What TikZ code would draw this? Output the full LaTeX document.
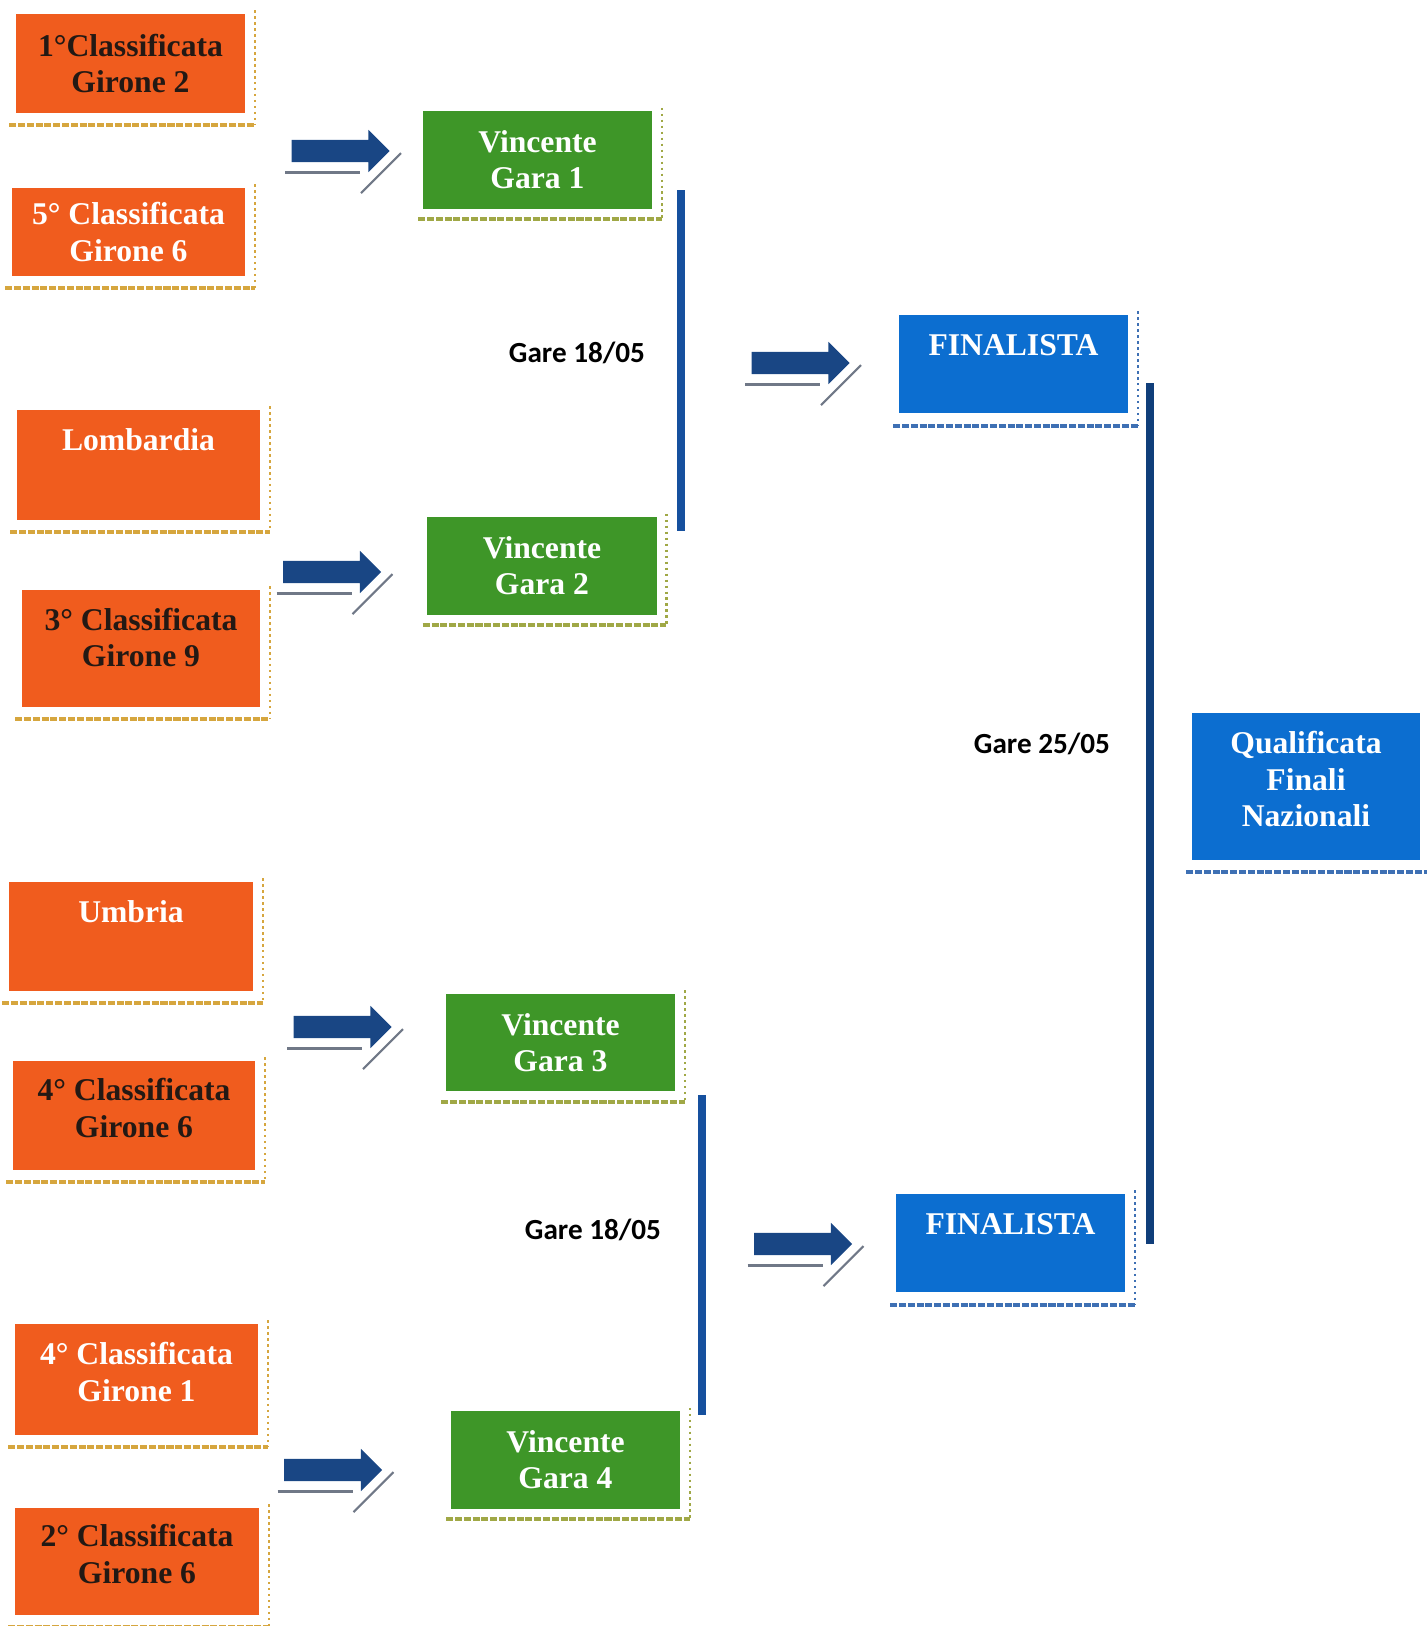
\documentclass[tikz,border=0pt]{standalone}
\usepackage{fontspec}
\setmainfont{Liberation Serif}
\newfontfamily\garefont{Carlito}
\usetikzlibrary{calc,shapes.arrows}

\definecolor{arancio}{RGB}{240,92,30}
\definecolor{verde}{RGB}{62,150,40}
\definecolor{azzurro}{RGB}{12,110,208}
\definecolor{scuro}{RGB}{35,25,20}
\definecolor{freccia}{RGB}{25,70,132}
\definecolor{barra}{RGB}{22,80,158}
\definecolor{barrascura}{RGB}{16,62,122}
\definecolor{oro}{RGB}{214,166,62}
\definecolor{oliva}{RGB}{160,168,70}
\definecolor{celeste}{RGB}{62,112,180}
\definecolor{ombra}{RGB}{112,120,135}

\tikzset{
  box/.style={align=center, inner sep=0pt, text=white,
    font=\bfseries\fontsize{9}{10.3}\selectfont},
  sq/.style={box, fill=arancio},
  gara/.style={box, fill=verde, minimum width=2.29cm, minimum height=0.97cm},
  fin/.style={box, fill=azzurro, minimum width=2.29cm, minimum height=0.98cm},
  gare/.style={font=\garefont\bfseries\fontsize{8.3}{10}\selectfont, text=black},
  barrow/.style={single arrow, fill=freccia, draw=none,
    inner xsep=0pt, inner ysep=0.105cm,
    minimum height=0.98cm, minimum width=0.40cm,
    single arrow head extend=0.1cm, single arrow tip angle=90},
  ashadow/.style={draw=ombra, line width=0.85pt},
  framev/.style={densely dotted, line width=0.7pt},
  frameh/.style={dash pattern=on 2pt off 0.5pt, line width=1.2pt},
  bracket/.style={draw=barra, line width=2.1pt}
}

\begin{document}
\begin{tikzpicture}[x=0.01cm, y=-0.01cm]
    \useasboundingbox (0,0) rectangle (1427,1626);

    % prima colonna
    \node[sq, text=scuro, minimum width=2.29cm, minimum height=0.99cm] (o1) at (130.5,63.5) {1°Classificata\\Girone 2};
    \node[sq, minimum width=2.33cm, minimum height=0.88cm] (o2) at (128.5,232) {5° Classificata\\Girone 6};
    \node[sq, minimum width=2.43cm, minimum height=1.10cm] (o3) at (138.5,465) {Lombardia\\[4pt]\mbox{}};
    \node[sq, text=scuro, minimum width=2.38cm, minimum height=1.17cm] (o4) at (141,648.5) {3° Classificata\\Girone 9\\[-4pt]\mbox{}};
    \node[sq, minimum width=2.44cm, minimum height=1.09cm] (o5) at (131,936.5) {Umbria\\[4pt]\mbox{}};
    \node[sq, text=scuro, minimum width=2.42cm, minimum height=1.09cm] (o6) at (134,1115.5) {4° Classificata\\Girone 6\\[-6pt]\mbox{}};
    \node[sq, minimum width=2.43cm, minimum height=1.11cm] (o7) at (136.5,1379.5) {4° Classificata\\Girone 1\\[-6pt]\mbox{}};
    \node[sq, text=scuro, minimum width=2.44cm, minimum height=1.07cm] (o8) at (137,1561.5) {2° Classificata\\Girone 6\\[-6pt]\mbox{}};

    % vincenti
    \node[gara] (g1) at (537.5,160) {Vincente\\Gara 1};
    \node[gara] (g2) at (542,566) {Vincente\\Gara 2};
    \node[gara] (g3) at (560.5,1042.5) {Vincente\\Gara 3};
    \node[gara] (g4) at (565.5,1460) {Vincente\\Gara 4};

    % finalisti
    \node[fin] (f1) at (1013.5,364) {FINALISTA\\[0.5pt]\mbox{}};
    \node[fin] (f2) at (1010.5,1243) {FINALISTA\\[0.5pt]\mbox{}};
    \node[fin, minimum width=2.28cm, minimum height=1.47cm] (q) at (1306,786.5) {Qualificata\\Finali\\Nazionali\\[-6pt]\mbox{}};

    % cornici
    \foreach \i in {1,...,8} {
        \draw[framev, draw=oro] ($(o\i.north east)+(9,-3)$) -- ($(o\i.south east)+(9,11)$);
        \draw[frameh, draw=oro] ($(o\i.south west)+(-6,11)$) -- ($(o\i.south east)+(9,11)$);
    }
    \foreach \i in {1,...,4} {
        \draw[framev, draw=oliva] ($(g\i.north east)+(9,-3)$) -- ($(g\i.south east)+(9,10)$);
        \draw[frameh, draw=oliva] ($(g\i.south west)+(-4,10)$) -- ($(g\i.south east)+(9,10)$);
    }
    \foreach \i in {1,2} {
        \draw[framev, draw=celeste] ($(f\i.north east)+(9,-3)$) -- ($(f\i.south east)+(9,12)$);
        \draw[frameh, draw=celeste] ($(f\i.south west)+(-5,12)$) -- ($(f\i.south east)+(9,12)$);
    }
    \draw[frameh, draw=celeste] ($(q.south west)+(-5,11)$) -- ($(q.south east)+(12,11)$);

    % frecce
    \node[barrow] (a1) at (335,151) {};
    \node[barrow] (a2) at (326.5,572) {};
    \node[barrow] (a3) at (337,1027) {};
    \node[barrow] (a4) at (327.5,1470) {};
    \node[barrow] (a5) at (795,363) {};
    \node[barrow] (a6) at (797.5,1244) {};
    \foreach \a in {a1,a2,a3,a4,a5,a6} {
        \draw[ashadow] ($(\a.center)+(-50,21)$) -- ($(\a.center)+(25,21)$);
        \draw[ashadow, line width=0.6pt] ($(\a.center)+(26,42)$) -- ($(\a.center)+(66,2)$);
    }

    % tabellone
    \coordinate (l1t) at (681,190);
    \coordinate (l1b) at (681,531);
    \coordinate (l2t) at (702,1095);
    \coordinate (l2b) at (702,1415);
    \coordinate (l3t) at (1150,383);
    \coordinate (l3b) at (1150,1244);
    \draw[bracket] (l1t) -- (l1b);
    \draw[bracket] (l2t) -- (l2b);
    \draw[bracket, draw=barrascura] (l3t) -- (l3b);

    \node[gare] (d1) at (577,353) {Gare 18/05};
    \node[gare] (d2) at (593,1230) {Gare 18/05};
    \node[gare] (d3) at (1042,744) {Gare 25/05};

\end{tikzpicture}
\end{document}
